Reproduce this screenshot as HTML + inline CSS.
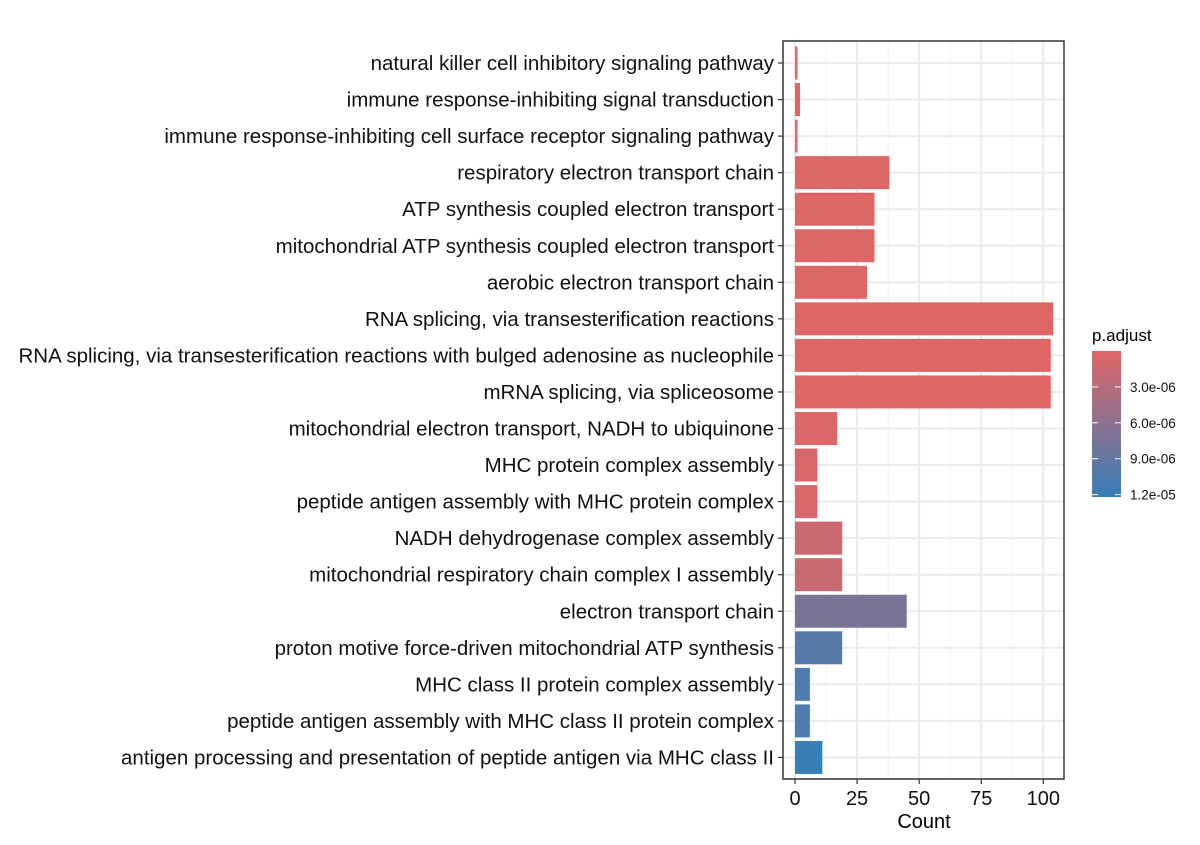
<!DOCTYPE html>
<html><head><meta charset="utf-8"><style>
body{margin:0;background:#fff}
svg{font-family:"Liberation Sans",Arial,sans-serif}
</style></head><body>
<svg id="chart" width="1200" height="840">
<defs><linearGradient id="lg" x1="0" y1="0" x2="0" y2="1">
<stop offset="0" stop-color="#E06666"/><stop offset="1" stop-color="#377EB8"/></linearGradient></defs>
<g id="grid"></g>
<g id="bars"></g>
<rect x="783" y="41" width="281" height="738" fill="none" stroke="#333" stroke-width="1.5"/>
<g id="ylab"></g>
<g id="xlab"></g>
<text x="924" y="828" font-size="20" text-anchor="middle">Count</text>
<g>
<text x="1092" y="341" font-size="17">p.adjust</text>
<rect x="1092" y="351" width="29" height="146" fill="url(#lg)"/>
<g id="leg"></g>
</g>
</svg>
<script>
const categories=["natural killer cell inhibitory signaling pathway","immune response-inhibiting signal transduction","immune response-inhibiting cell surface receptor signaling pathway","respiratory electron transport chain","ATP synthesis coupled electron transport","mitochondrial ATP synthesis coupled electron transport","aerobic electron transport chain","RNA splicing, via transesterification reactions","RNA splicing, via transesterification reactions with bulged adenosine as nucleophile","mRNA splicing, via spliceosome","mitochondrial electron transport, NADH to ubiquinone","MHC protein complex assembly","peptide antigen assembly with MHC protein complex","NADH dehydrogenase complex assembly","mitochondrial respiratory chain complex I assembly","electron transport chain","proton motive force-driven mitochondrial ATP synthesis","MHC class II protein complex assembly","peptide antigen assembly with MHC class II protein complex","antigen processing and presentation of peptide antigen via MHC class II"];
const counts=[1,2,1,38,32,32,29,104,103,103,17,9,9,19,19,45,19,6,6,11];
const padj=[1e-7,1e-7,1e-7,2e-7,2e-7,2e-7,2e-7,1e-7,1e-7,1e-7,3e-7,5e-7,5e-7,1.5e-6,1.5e-6,7.5e-6,1e-5,1.05e-5,1.05e-5,1.2e-5];
const xTicks=[0,25,50,75,100];
const legTicks=[3e-6,6e-6,9e-6,1.2e-5];
const legLabels=["3.0e-06","6.0e-06","9.0e-06","1.2e-05"];
const NS="http://www.w3.org/2000/svg";
const x=v=>795+v*2.483;
const y=i=>63+i*36.55;
const pmax=1.22e-5;
function col(p){const t=Math.min(1,Math.max(0,p/pmax));const a=[224,102,102],b=[55,126,184];
return "rgb("+a.map((c,k)=>Math.round(c+(b[k]-c)*t)).join(",")+")";}
function mk(tag,attrs,parent){const e=document.createElementNS(NS,tag);for(const k in attrs)e.setAttribute(k,attrs[k]);parent.appendChild(e);return e;}
const grid=document.getElementById('grid'),bars=document.getElementById('bars'),yl=document.getElementById('ylab'),xl=document.getElementById('xlab'),leg=document.getElementById('leg');
for(let i=0;i<xTicks.length;i++){
 if(i<xTicks.length-1){const m=(xTicks[i]+xTicks[i+1])/2;const g=mk('line',{x1:x(m),x2:x(m),y1:41,y2:779,stroke:'#f2f2f2','stroke-width':1},grid);
 }
 const g=mk('line',{x1:x(xTicks[i]),x2:x(xTicks[i]),y1:41,y2:779,stroke:'#ebebeb','stroke-width':2},grid);
 
 const t=mk('line',{x1:x(xTicks[i]),x2:x(xTicks[i]),y1:779,y2:784,stroke:'#333','stroke-width':1.2},xl);
 
 const l=mk('text',{x:x(xTicks[i]),y:805,'font-size':20,'text-anchor':'middle',fill:'#111'},xl);l.textContent=xTicks[i];
 
}
categories.forEach((c,i)=>{
 const g=mk('line',{x1:783,x2:1064,y1:y(i),y2:y(i),stroke:'#ebebeb','stroke-width':2},grid);
 
 const r=mk('rect',{x:x(0),y:y(i)-16.5,width:x(counts[i])-x(0),height:33,fill:col(padj[i])},bars);
 
 const t=mk('line',{x1:778,x2:783,y1:y(i),y2:y(i),stroke:'#333','stroke-width':1.2},yl);
 
 const l=mk('text',{x:774,y:y(i)+7,'font-size':20.5,'text-anchor':'end',fill:'#111'},yl);l.textContent=c;
 
});
legTicks.forEach((v,i)=>{
 const yy=351+v/pmax*146;
 const a=mk('line',{x1:1092,x2:1098,y1:yy,y2:yy,stroke:'#fff','stroke-width':1},leg);
 
 const b=mk('line',{x1:1115,x2:1121,y1:yy,y2:yy,stroke:'#fff','stroke-width':1},leg);
 
 const l=mk('text',{x:1130,y:yy+5,'font-size':13.5,fill:'#111'},leg);l.textContent=legLabels[i];
 
});
</script>
</body></html>
